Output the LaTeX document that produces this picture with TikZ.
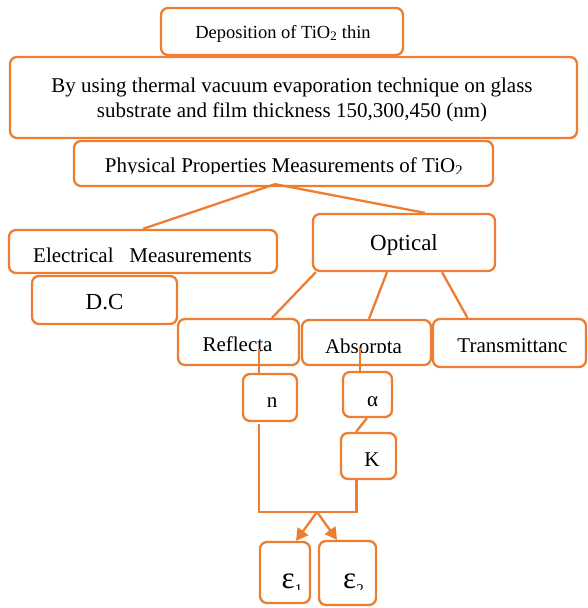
\documentclass[tikz,border=0pt]{standalone}
\usepackage{fontspec}
\setmainfont{Liberation Serif}
\usetikzlibrary{calc,arrows.meta}
\definecolor{org}{HTML}{ED7D31}
\newcommand{\epsub}[1]{ε\raisebox{-6pt}{\fontsize{15}{15}\selectfont #1}}
\begin{document}
\begin{tikzpicture}[x=1pt,y=-1pt,
 box/.style={draw=org,line width=2.3pt,rounded corners=7pt,fill=white,inner sep=0pt},
 conn/.style={draw=org,line width=2.3pt},
 tip/.style={-{Triangle[length=12pt,width=13pt]}},
 lbl/.style={inner sep=0pt,anchor=base,font=\fontsize{21}{25}\selectfont},
 small/.style={lbl,font=\fontsize{18.5}{22}\selectfont},
 mid/.style={lbl,font=\fontsize{21}{24}\selectfont},
 big/.style={lbl,font=\fontsize{31}{34}\selectfont}]
\useasboundingbox (0,0) rectangle (587,608);
% boxes
\node[box,minimum width=242pt,minimum height=47pt] (dep) at (282,31.5) {};
\node[box,minimum width=567pt,minimum height=81pt] (by) at (293.5,97.5) {};
\node[box,minimum width=419pt,minimum height=45pt] (phys) at (283.5,163.5) {};
\node[box,minimum width=268pt,minimum height=43pt] (elec) at (143,251.5) {};
\node[box,minimum width=145pt,minimum height=48pt] (dc) at (104.5,300) {};
\node[box,minimum width=182pt,minimum height=57pt] (opt) at (404,242.5) {};
\node[box,minimum width=121pt,minimum height=46pt] (refl) at (238.5,342) {};
\node[box,minimum width=129pt,minimum height=45pt] (abs) at (366.5,342.5) {};
\node[box,minimum width=153pt,minimum height=48pt] (trans) at (509.5,343) {};
\node[box,minimum width=54pt,minimum height=47pt] (n) at (270,397.5) {};
\node[box,minimum width=49pt,minimum height=45pt] (alpha) at (367.5,394.5) {};
\node[box,minimum width=55pt,minimum height=46pt] (K) at (368.5,456) {};
\node[box,minimum width=50pt,minimum height=61pt] (e1) at (285,572.5) {};
\node[box,minimum width=57pt,minimum height=64pt] (e2) at (347.5,573) {};
% texts
\node[small] (tdep) at (283,38) {Deposition of TiO\textsubscript{2} thin};
\node[lbl] (tby1) at (292,92) {By using thermal vacuum evaporation technique on glass};
\node[lbl] (tby2) at (292,117) {substrate and film thickness 150,300,450 (nm)};
\begin{scope}
\clip (76,143) rectangle (491,173.5);
\node[lbl] (tphys) at (284,172.5) {Physical Properties Measurements of TiO\textsubscript{2}};
\end{scope}
\node[lbl] (telec) at (142.5,262) {Electrical\hspace{0.75em}Measurements};
\node[lbl,font=\fontsize{23}{27}\selectfont] (tdc) at (104.5,309) {D.C};
\node[lbl,font=\fontsize{23}{27}\selectfont] (topt) at (404,250) {Optical};
\node[lbl] (trefl) at (237.5,351) {Reflecta};
\begin{scope}
\clip (304,322) rectangle (429,352);
\node[lbl] (tabs) at (363.5,353) {Absorpta};
\end{scope}
\node[lbl] (ttrans) at (512.5,352) {Transmittanc};
\node[mid] (tn) at (272,407) {n};
\node[mid] (talpha) at (372.5,406) {α};
\node[mid] (tK) at (372,466) {K};
\begin{scope}
\clip (262,544) rectangle (308,589.5);
\node[big] (te1) at (292,588) {\epsub{1}};
\end{scope}
\begin{scope}
\clip (321,543) rectangle (374,589.5);
\node[big] (te2) at (353.5,588) {\epsub{2}};
\end{scope}
% connectors
\coordinate (apex) at ($(phys.south)+(-8.5,-3)$);
\draw[conn] (apex) -- (elec.north);
\draw[conn] (apex) -- ($(opt.north)+(21,0)$);
\draw[conn] ($(opt.south west)+(4,0)$) -- ($(refl.north)+(33.5,0)$);
\draw[conn] ($(opt.south)+(-17,0)$) -- ($(abs.north)+(2.5,0)$);
\draw[conn] ($(opt.south)+(38,0)$) -- ($(trans.north)+(-42,0)$);
\draw[conn] ($(refl.center)+(20.5,7)$) -- ($(n.north)+(-11,0)$);
\draw[conn] ($(abs.center)+(-6.5,5.5)$) -- ($(alpha.north)+(-7.5,0)$);
\draw[conn] ($(alpha.south)+(-0.5,0)$) -- ($(K.north)+(-12.5,0)$);
\coordinate (bl) at (259,512);
\coordinate (br) at (356.5,512);
\coordinate (fork) at (317,512);
\draw[conn,line cap=rect] ($(n.south)+(-11,3)$) -- (bl) -- (br) -- ($(K.south)+(-12,0)$);
\draw[conn,tip] (fork) -- ($(e1.north)+(11,0)$);
\draw[conn,tip] (fork) -- ($(e2.north)+(-10.5,0)$);
\end{tikzpicture}
\end{document}
